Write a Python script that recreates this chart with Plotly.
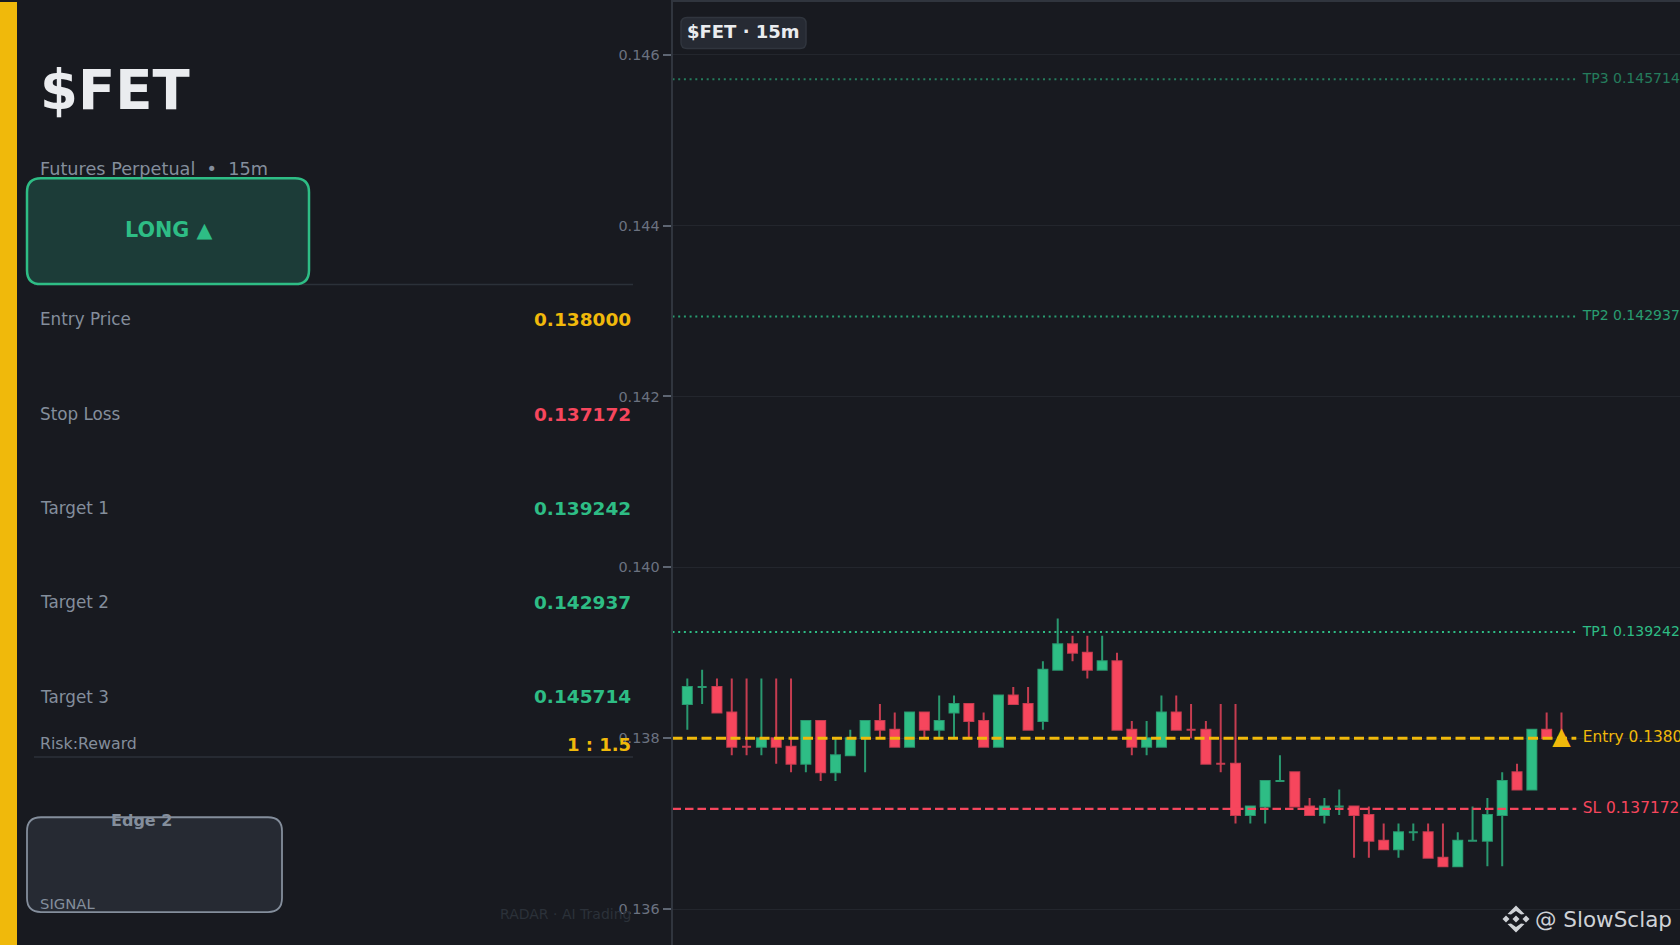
import plotly.graph_objects as go

W = 1680
H = 945

BG = "#181a20"
GREEN = "#2ebd85"
RED = "#f6465d"
YELLOW = "#f0b90b"
MUTED = "#848e9c"
LINE = "#2b3139"
FONT = "DejaVu Sans"

opens = [0.1384, 0.1386, 0.1386, 0.1383, 0.1379, 0.1379, 0.1380, 0.1379, 0.1377, 0.1382,
         0.1376, 0.1378, 0.1380, 0.1382, 0.1381, 0.1379, 0.1383, 0.1381, 0.1383, 0.1384,
         0.1382, 0.1379, 0.1385, 0.1384, 0.1382, 0.1388, 0.1391, 0.1390, 0.1388, 0.1389,
         0.1381, 0.1379, 0.1379, 0.1383, 0.1381, 0.1381, 0.1377, 0.1377, 0.1371, 0.1372,
         0.1375, 0.1376, 0.1372, 0.1371, 0.1372, 0.1372, 0.1371, 0.1368, 0.1367, 0.1369,
         0.1369, 0.1366, 0.1365, 0.1368, 0.1368, 0.1371, 0.1376, 0.1374, 0.1381, 0.1380]
highs = [0.1387, 0.1388, 0.1387, 0.1387, 0.1387, 0.1387, 0.1387, 0.1387, 0.1382, 0.1382,
         0.1380, 0.1381, 0.1382, 0.1384, 0.1383, 0.1383, 0.1383, 0.1385, 0.1385, 0.1384,
         0.1383, 0.1385, 0.1386, 0.1386, 0.1389, 0.1394, 0.1392, 0.1392, 0.1392, 0.1390,
         0.1382, 0.1382, 0.1385, 0.1385, 0.1384, 0.1382, 0.1384, 0.1384, 0.1372, 0.1375,
         0.1378, 0.1376, 0.1373, 0.1373, 0.1374, 0.1372, 0.1372, 0.1370, 0.1370, 0.1370,
         0.1370, 0.1370, 0.1369, 0.1372, 0.1373, 0.1376, 0.1377, 0.1381, 0.1383, 0.1383]
lows = [0.1381, 0.1384, 0.1383, 0.1378, 0.1378, 0.1378, 0.1377, 0.1376, 0.1376, 0.1375,
        0.1375, 0.1378, 0.1376, 0.1380, 0.1379, 0.1379, 0.1380, 0.1380, 0.1380, 0.1380,
        0.1379, 0.1379, 0.1384, 0.1381, 0.1381, 0.1388, 0.1389, 0.1387, 0.1388, 0.1381,
        0.1378, 0.1378, 0.1379, 0.1381, 0.1380, 0.1377, 0.1376, 0.1370, 0.1370, 0.1370,
        0.1375, 0.1372, 0.1371, 0.1370, 0.1371, 0.1366, 0.1366, 0.1367, 0.1366, 0.1368,
        0.1366, 0.1365, 0.1365, 0.1368, 0.1365, 0.1365, 0.1374, 0.1374, 0.1380, 0.1380]
closes = [0.1386, 0.1386, 0.1383, 0.1379, 0.1379, 0.1380, 0.1379, 0.1377, 0.1382, 0.1376,
          0.1378, 0.1380, 0.1382, 0.1381, 0.1379, 0.1383, 0.1381, 0.1382, 0.1384, 0.1382,
          0.1379, 0.1385, 0.1384, 0.1381, 0.1388, 0.1391, 0.1390, 0.1388, 0.1389, 0.1381,
          0.1379, 0.1380, 0.1383, 0.1381, 0.1381, 0.1377, 0.1377, 0.1371, 0.1372, 0.1375,
          0.1375, 0.1372, 0.1371, 0.1372, 0.1372, 0.1371, 0.1368, 0.1367, 0.1369, 0.1369,
          0.1366, 0.1365, 0.1368, 0.1368, 0.1371, 0.1375, 0.1374, 0.1381, 0.1380, 0.1380]

entry = 0.138
stop_loss = 0.137172
targets = [0.139242, 0.142937, 0.145714]
target_names = ["TP1", "TP2", "TP3"]
target_alpha = [1.0, 0.8, 0.6]
y_ticks = [0.136, 0.138, 0.140, 0.142, 0.144, 0.146]
row_labels = ["Entry Price", "Stop Loss", "Target 1", "Target 2", "Target 3"]
row_values = ["0.138000", "0.137172", "0.139242", "0.142937", "0.145714"]
row_colors = [YELLOW, RED, GREEN, GREEN, GREEN]
row_y = [318.0, 412.8, 507.3, 601.6, 696.0]

idx = list(range(len(opens)))
line_end = len(opens)


def fx(px):
    return px / W


def fy(px):
    return 1 - px / H


def rbox(x0, y0, x1, y1, r, fill, line, lw):
    p = (f"M{fx(x0 + r)},{fy(y0)} L{fx(x1 - r)},{fy(y0)} Q{fx(x1)},{fy(y0)} {fx(x1)},{fy(y0 + r)} "
         f"L{fx(x1)},{fy(y1 - r)} Q{fx(x1)},{fy(y1)} {fx(x1 - r)},{fy(y1)} "
         f"L{fx(x0 + r)},{fy(y1)} Q{fx(x0)},{fy(y1)} {fx(x0)},{fy(y1 - r)} "
         f"L{fx(x0)},{fy(y0 + r)} Q{fx(x0)},{fy(y0)} {fx(x0 + r)},{fy(y0)} Z")
    return dict(type="path", xref="paper", yref="paper", path=p, fillcolor=fill,
                line=dict(color=line, width=lw), layer="above")


def poly(points, color):
    p = "M" + " L".join(f"{fx(a)},{fy(b)}" for a, b in points) + " Z"
    return dict(type="path", xref="paper", yref="paper", path=p, fillcolor=color,
                line=dict(width=0), layer="above")


def label(x, y, text, size, color, anchor="left", bold=False):
    if bold:
        text = f"<b>{text}</b>"
    return dict(xref="paper", yref="paper", x=fx(x), y=fy(y), text=text, showarrow=False,
                xanchor=anchor, yanchor="middle", borderpad=0,
                font=dict(family=FONT, size=size, color=color))


fig = go.Figure()

fig.add_trace(go.Candlestick(
    x=idx, open=opens, high=highs, low=lows, close=closes,
    increasing=dict(line=dict(color="rgba(46,189,133,0.78)", width=2), fillcolor=GREEN),
    decreasing=dict(line=dict(color="rgba(246,70,93,0.78)", width=2), fillcolor=RED),
    whiskerwidth=0, hoverinfo="skip", showlegend=False,
))


def level(price, color, dash, width, text, size, alpha=1.0):
    fig.add_trace(go.Scatter(x=[-1, line_end], y=[price, price], mode="lines", opacity=alpha,
                             line=dict(color=color, dash=dash, width=width),
                             hoverinfo="skip", showlegend=False))
    # label starts a bit past the end of the line, gets clipped by the plot edge
    fig.add_trace(go.Scatter(x=[line_end + 0.43], y=[price], mode="text", text=[text], opacity=alpha,
                             textposition="middle right",
                             textfont=dict(family=FONT, size=size, color=color),
                             hoverinfo="skip", showlegend=False))


for name, price, a in zip(target_names, targets, target_alpha):
    level(price, GREEN, "2px,3.7px", 2, f"{name} {price:.6f}", 14, a)
level(stop_loss, RED, "8.5px,4px", 2.2, f"SL {stop_loss:.6f}", 15.4)
level(entry, YELLOW, "10px,4.5px", 3, f"Entry {entry:.6f}", 15.4)

fig.add_trace(go.Scatter(x=[idx[-1]], y=[entry], mode="text", text=["▲"], textposition="middle center",
                         textfont=dict(family=FONT, size=24, color=YELLOW),
                         hoverinfo="skip", showlegend=False))

shapes = [
    dict(type="rect", xref="paper", yref="paper", x0=0, x1=fx(17), y0=0, y1=1,
         fillcolor=YELLOW, line=dict(width=0)),
    dict(type="line", xref="paper", yref="paper", x0=fx(34), x1=fx(633), y0=fy(283), y1=fy(283),
         line=dict(color=LINE, width=1.5)),
    dict(type="line", xref="paper", yref="paper", x0=fx(34), x1=fx(633), y0=fy(756.5), y1=fy(756.5),
         line=dict(color=LINE, width=1.5)),
    rbox(27, 176.7, 309, 282.7, 14, "#1c3c38", GREEN, 2.5),
    rbox(27, 817, 282, 912, 14, "#262a33", MUTED, 1.8),
    rbox(681, 15.5, 806, 46.5, 6, "#262a33", "#30353e", 1.5),
]

# binance mark next to the watermark
cx, cy = 1516, 919
mark = "#cfd2d6"
shapes += [
    poly([(cx - 3.5, cy), (cx, cy - 3.5), (cx + 3.5, cy), (cx, cy + 3.5)], mark),
    poly([(cx - 13.5, cy), (cx - 10, cy - 3.5), (cx - 6.5, cy), (cx - 10, cy + 3.5)], mark),
    poly([(cx + 13.5, cy), (cx + 10, cy - 3.5), (cx + 6.5, cy), (cx + 10, cy + 3.5)], mark),
    poly([(cx - 8.5, cy - 5), (cx, cy - 13.5), (cx + 8.5, cy - 5), (cx + 5, cy - 4.5),
          (cx, cy - 8), (cx - 5, cy - 4.5)], mark),
    poly([(cx - 8.5, cy + 5), (cx, cy + 13.5), (cx + 8.5, cy + 5), (cx + 5, cy + 4.5),
          (cx, cy + 8), (cx - 5, cy + 4.5)], mark),
]

annotations = [
    label(39, 88, "$FET", 54.5, "#eaecef", bold=True),
    label(38.8, 167, "Futures Perpetual\u00a0\u00a0•\u00a0\u00a015m", 17.7, MUTED),
    label(168.5, 228, "LONG ▲", 20.7, GREEN, "center", True),
    label(38.8, 743.5, "Risk:Reward", 15.8, MUTED),
    label(632, 744, "1 : 1.5", 18, YELLOW, "right", True),
    label(141, 820.5, "Edge 2", 16, MUTED, "center", True),
    label(38.8, 903.5, "SIGNAL", 14.8, MUTED),
    label(632, 913.5, "RADAR · AI Trading", 14, "#2b3139", "right"),
    label(743.5, 29.5, "$FET · 15m", 18, "#eaecef", "center", True),
    label(1534, 919, "@ SlowSclap", 21.5, "#cfd2d6"),
]
for name, val, col, y in zip(row_labels, row_values, row_colors, row_y):
    annotations.append(label(38.8, y, name, 16.8, MUTED))
    annotations.append(label(632, y + 0.3, val, 18.5, col, "right", True))

fig.update_layout(
    width=W, height=H,
    margin=dict(l=0, r=0, t=0, b=0),
    paper_bgcolor=BG, plot_bgcolor=BG,
    showlegend=False,
    boxgap=0.3, boxgroupgap=0.13,
    shapes=shapes, annotations=annotations,
    font=dict(family=FONT),
    xaxis=dict(domain=[fx(672.5), 1], range=[-1, 67], rangeslider=dict(visible=False),
               showgrid=False, showticklabels=False, ticks="", zeroline=False,
               showline=True, mirror=True, linecolor="#30353e", linewidth=2),
    yaxis=dict(range=[0.135579, 0.146618], tickvals=y_ticks, ticktext=[f"{t:.3f}" for t in y_ticks],
               showgrid=True, gridcolor="#23262d", gridwidth=1, zeroline=False,
               ticks="outside", ticklen=8, tickcolor="#5e6673", tickwidth=1.5,
               tickfont=dict(family=FONT, size=14.4, color="#6b7280"),
               showline=True, linecolor="#30353e", linewidth=2),
)

fig.write_html("out.html", config={"displayModeBar": False},
               post_script="document.body.style.margin='0';document.body.style.overflow='hidden';")
